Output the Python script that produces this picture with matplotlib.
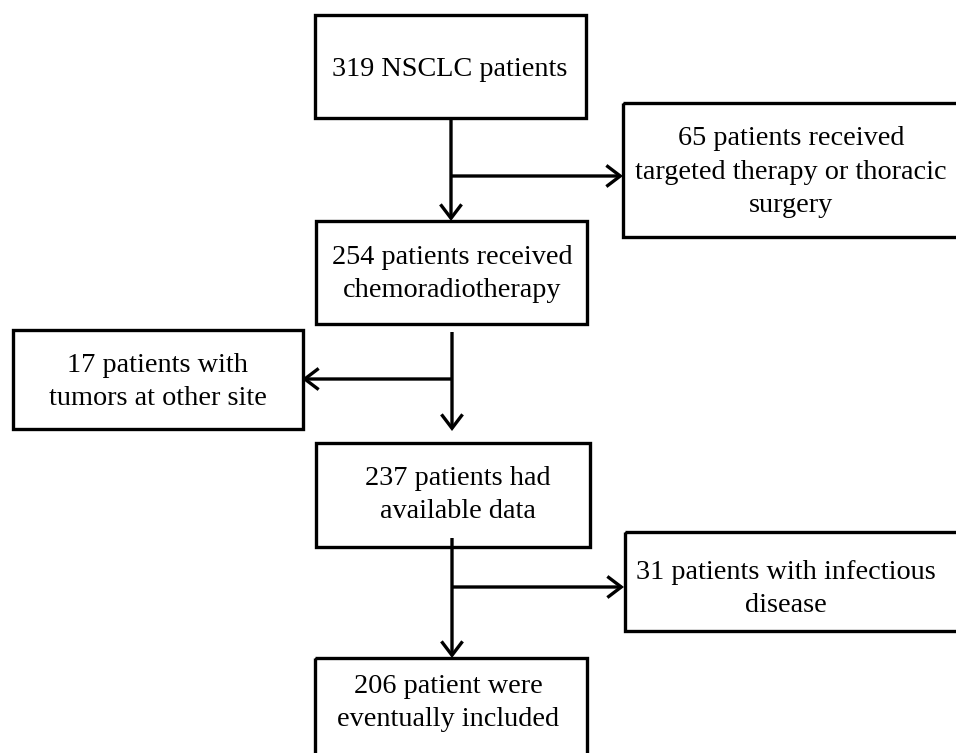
import matplotlib
matplotlib.use("Agg")
import matplotlib.pyplot as plt
from matplotlib.patches import Rectangle, FancyArrowPatch

# Flowchart content
labels = [
    "319 NSCLC patients",
    "65 patients received\ntargeted therapy or thoracic\nsurgery",
    "254 patients received\nchemoradiotherapy",
    "17 patients with\ntumors at other site",
    "237 patients had\navailable data",
    "31 patients with infectious\ndisease",
    "206 patient were\neventually included",
]

# layout (pixel coordinates: left, top, right, bottom) and text centers
boxes = [
    (315, 15, 586, 118),
    (623, 103, 962, 237),
    (316, 221, 587, 324),
    (13, 330, 303, 429),
    (316, 443, 590, 547),
    (625, 532, 962, 631),
    (315, 658, 587, 762),
]
text_centers = [
    (450, 69), (791, 172), (452, 274), (158, 382), (458, 495), (786, 589), (448, 703),
]
arrows = [
    ((451, 118), (451, 221)),
    ((451, 176), (623, 176)),
    ((452, 332), (452, 431)),
    ((452, 379), (302, 379)),
    ((452, 538), (452, 658)),
    ((452, 587), (624, 587)),
]

W, H = 956, 753
fig = plt.figure(figsize=(W / 100, H / 100), dpi=100)
ax = fig.add_axes([0, 0, 1, 1])
ax.set_xlim(0, W)
ax.set_ylim(H, 0)
ax.axis("off")

for (l, t, r, b) in boxes:
    ax.add_patch(Rectangle((l, t), r - l, b - t, fill=False, lw=2.4,
                           edgecolor="black", joinstyle="miter"))

for lab, (cx, cy) in zip(labels, text_centers):
    ax.text(cx, cy, lab, ha="center", va="center", fontsize=20.3,
            family="Liberation Serif", linespacing=1.45, color="black")

for (p0, p1) in arrows:
    ax.add_patch(FancyArrowPatch(p0, p1, arrowstyle="->,head_length=5,head_width=3.8",
                                 lw=2.4, color="black", shrinkA=0, shrinkB=0,
                                 mutation_scale=2, joinstyle="miter", capstyle="butt"))

fig.savefig("out.png", dpi=100, facecolor="white")
